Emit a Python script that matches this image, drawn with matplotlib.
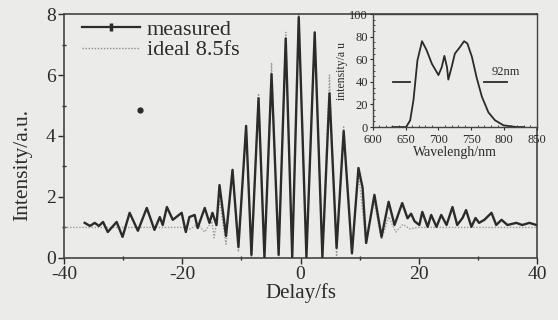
"""
Интерферометрическая автокорреляция импульса + спектр во вставке.
Сохраняет out.png (558x320).
"""

import matplotlib
matplotlib.use("Agg")
import matplotlib.pyplot as plt
from matplotlib.lines import Line2D
from matplotlib.ticker import MultipleLocator

# --- измеренная автокорреляция (задержка, фс / интенсивность, о.е.) ---
meas_t = [-36.5, -35.6, -34.8, -34.1, -33.4, -32.6, -31.1, -30.1, -28.9, -27.5,
          -26.0, -24.7, -23.8, -23.3, -22.6, -21.6, -20.1, -19.4, -18.8, -17.9,
          -17.4, -16.2, -15.4, -14.9, -14.2, -13.7, -12.6, -11.5, -10.5, -9.2,
          -8.3, -7.1, -6.1, -4.9, -3.7, -2.5, -1.4, -0.3, 1.0, 2.4,
          3.7, 4.9, 6.1, 7.3, 8.7, 9.8, 10.5, 11.1, 12.5, 13.7,
          14.9, 15.9, 17.2, 18.1, 18.7, 19.3, 20.1, 20.6, 21.5, 22.1,
          23.0, 23.8, 24.7, 25.7, 26.5, 27.4, 28.0, 28.9, 29.6, 30.2,
          31.1, 32.3, 33.1, 34.0, 35.0, 36.5, 37.5, 38.7, 39.9]
meas_i = [1.15, 1.05, 1.15, 1.05, 1.18, 0.85, 1.18, 0.69, 1.48, 0.89,
          1.64, 0.92, 1.34, 1.08, 1.67, 1.25, 1.48, 0.85, 1.34, 1.41,
          0.98, 1.64, 1.15, 1.48, 1.08, 2.39, 0.72, 2.89, 0.36, 4.33,
          0.10, 5.24, 0.03, 6.03, 0.10, 7.20, 0.03, 7.90, 0.03, 7.40,
          0.03, 5.40, 0.33, 4.16, 0.15, 2.95, 2.30, 0.49, 2.07, 0.69,
          1.84, 1.08, 1.80, 1.30, 1.45, 1.20, 1.08, 1.51, 1.02, 1.41,
          1.02, 1.41, 1.08, 1.67, 1.08, 1.31, 1.57, 1.02, 1.31, 1.15,
          1.25, 1.48, 1.08, 1.25, 1.08, 1.15, 1.08, 1.15, 1.08]

# --- расчётная автокорреляция для 8.5 фс ---
ideal_t = [-40, -19.9, -18.7, -17.4, -16.2, -15.0, -14.6, -13.7, -12.6, -11.5,
           -10.5, -9.2, -8.3, -7.1, -6.1, -4.9, -3.7, -2.5, -1.4, -0.3,
           1.0, 2.4, 3.7, 4.9, 6.1, 7.3, 8.7, 9.8, 11.1, 12.4,
           13.7, 14.9, 16.1, 17.3, 18.5, 19.7, 40]
ideal_i = [1.0, 1.0, 0.95, 1.1, 0.85, 1.2, 0.66, 1.9, 0.45, 2.8,
           0.2, 4.3, 0.05, 5.4, 0.0, 6.4, 0.0, 7.4, 0.0, 8.0,
           0.0, 7.4, 0.0, 6.0, 0.05, 4.3, 0.2, 2.8, 0.45, 1.9,
           0.6, 1.35, 0.85, 1.1, 0.95, 1.0, 1.0]

# одиночная точка (артефакт на скане)
spot_t = [-27.2]
spot_i = [4.85]

# --- спектр (нм / о.е.) ---
wl = [630, 650.8, 657, 662, 668, 675, 682, 690, 700, 705, 709, 713, 715, 720,
      725, 733, 739, 744, 751, 758, 766, 776, 786, 799, 819, 830]
spec = [0, 0, 6, 24, 59, 76, 68, 56, 46, 53, 63, 53, 42, 53,
        65, 71, 76, 74, 62, 44, 27, 13, 6, 1.5, 0, 0]
fwhm_left = [631, 657]
fwhm_right = [769, 804]
fwhm_level = 40

BG = "#ebebe9"
INK = "#2b2b2b"
plt.rcParams["font.family"] = ["Liberation Serif", "DejaVu Serif"]
plt.rcParams["axes.unicode_minus"] = False
plt.rcParams["text.color"] = INK
plt.rcParams["axes.labelcolor"] = INK
plt.rcParams["xtick.color"] = INK
plt.rcParams["ytick.color"] = INK

fig = plt.figure(figsize=(5.58, 3.2), dpi=100, facecolor=BG)
ax = fig.add_axes([0.1147, 0.194, 0.8477, 0.762], facecolor=BG)

ax.plot(ideal_t, ideal_i, color="#9a9a9a", lw=1.0, ls=(0, (1, 1.2)), zorder=2)
ax.plot(meas_t, meas_i, color=INK, lw=1.7, zorder=3)
ax.plot(spot_t, spot_i, "o", color=INK, ms=3.5, zorder=3)

ax.set_xlim(-40, 40)
ax.set_ylim(0, 8)
ax.xaxis.set_major_locator(MultipleLocator(20))
ax.xaxis.set_minor_locator(MultipleLocator(10))
ax.yaxis.set_major_locator(MultipleLocator(2))
ax.yaxis.set_minor_locator(MultipleLocator(1))
ax.tick_params(which="major", direction="out", length=4, width=1, labelsize=14, pad=2)
ax.tick_params(which="minor", direction="inout", length=3, width=1)
for s in ax.spines.values():
    s.set_color("#444444")
    s.set_linewidth(1.2)
ax.set_xlabel("Delay/fs", fontsize=15, labelpad=0)
ax.set_ylabel("Intensity/a.u.", fontsize=15.5)
ax.yaxis.set_label_coords(-0.068, 0.38)

handles = [
    Line2D([], [], color=INK, lw=1.6, marker="|", ms=6, mew=2.5),
    Line2D([], [], color="#8a8a8a", lw=1.0, ls=(0, (1, 1.2))),
]
ax.legend(handles, ["measured", "ideal 8.5fs"], loc="upper left", frameon=False,
          fontsize=16, handlelength=2.6, handletextpad=0.3, labelspacing=0.0,
          borderaxespad=0.0, bbox_to_anchor=(0.02, 1.015))

# --- вставка со спектром ---
ins = fig.add_axes([0.668, 0.603, 0.2944, 0.353], facecolor=BG)
ins.plot(wl, spec, color=INK, lw=1.3)
ins.plot(fwhm_left, [fwhm_level] * 2, color=INK, lw=1.3, clip_on=False)
ins.plot(fwhm_right, [fwhm_level] * 2, color=INK, lw=1.3, clip_on=False)
ins.text(781, fwhm_level + 3, "92nm", fontsize=9, ha="left", va="bottom")
ins.set_xlim(600, 850)
ins.set_ylim(0, 100)
ins.xaxis.set_major_locator(MultipleLocator(50))
ins.yaxis.set_major_locator(MultipleLocator(20))
ins.yaxis.set_minor_locator(MultipleLocator(5))
ins.xaxis.set_minor_locator(MultipleLocator(10))
ins.tick_params(which="major", direction="out", length=2.5, width=0.8, labelsize=9)
ins.tick_params(axis="x", which="major", pad=2.5)
ins.tick_params(axis="y", which="major", pad=1)
ins.tick_params(which="minor", direction="in", length=1.5, width=0.6)
for s in ins.spines.values():
    s.set_color("#444444")
    s.set_linewidth(1.0)
ins.set_xlabel("Wavelengh/nm", fontsize=10, labelpad=0)
ins.set_ylabel("intensity/a u", fontsize=8.5, labelpad=1)

fig.savefig("out.png", dpi=100, facecolor=BG)
